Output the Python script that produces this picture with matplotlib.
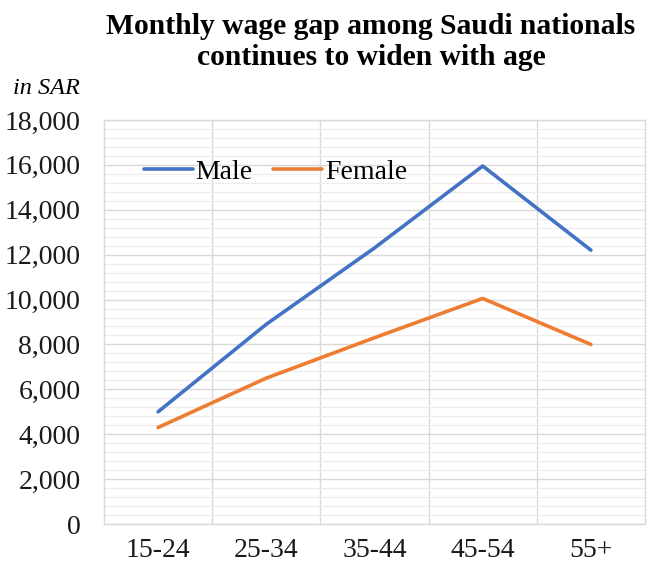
import matplotlib
matplotlib.use("Agg")
import matplotlib.pyplot as plt
from matplotlib.ticker import MultipleLocator, FuncFormatter, FixedLocator
import numpy as np

plt.rcParams['font.family'] = ['Liberation Serif', 'DejaVu Serif']

# Data
age_groups = ["15-24", "25-34", "35-44", "45-54", "55+"]
male = [5000, 8900, 12300, 15950, 12200]
female = [4300, 6500, 8300, 10050, 8000]

fig = plt.figure(figsize=(6.49, 5.67), dpi=100)
ax = fig.add_axes([104 / 649, 1 - 524 / 567, 541 / 649, 404 / 567])

x = np.arange(len(age_groups))
ax.plot(x, male, color='#4472C4', lw=2.6, label='Male', solid_capstyle='round')
ax.plot(x, female, color='#ED7D31', lw=2.6, label='Female', solid_capstyle='round')

ax.set_xlim(-0.5, len(age_groups) - 0.5)
ax.set_ylim(0, 18000)
ax.yaxis.set_major_locator(MultipleLocator(2000))
ax.yaxis.set_minor_locator(MultipleLocator(400))
ax.yaxis.set_major_formatter(FuncFormatter(lambda v, p: '{:,.0f}'.format(v)))
ax.set_xticks(x)
ax.set_xticklabels(age_groups)
ax.xaxis.set_minor_locator(FixedLocator(x[:-1] + 0.5))

ax.grid(which='major', axis='y', color='#d9d9d9', lw=1.0)
ax.grid(which='minor', axis='y', color='#ececec', lw=0.8)
ax.grid(which='minor', axis='x', color='#d9d9d9', lw=1.0)
ax.set_axisbelow(True)
for s in ax.spines.values():
    s.set_color('#d9d9d9')
    s.set_linewidth(1.0)
ax.tick_params(which='both', length=0, labelsize=20, colors='#1a1a1a')
ax.tick_params(axis='x', pad=10)
ax.tick_params(axis='y', pad=17)

ax.legend(loc='center left', bbox_to_anchor=(29 / 541, 1 - 52 / 404), ncol=2, frameon=False,
          fontsize=20, handlelength=1.75, handletextpad=0.1, columnspacing=0.75,
          borderaxespad=0)

fig.text(371 / 649, 1 - 42 / 567, "Monthly wage gap among Saudi nationals\ncontinues to widen with age",
         ha='center', va='center', fontsize=21.3, fontweight='bold', linespacing=1.2)
fig.text(80 / 649, 1 - 88 / 567, "in SAR", ha='right', va='center', fontsize=17.5,
         style='italic')

fig.savefig('out.png', dpi=100)
